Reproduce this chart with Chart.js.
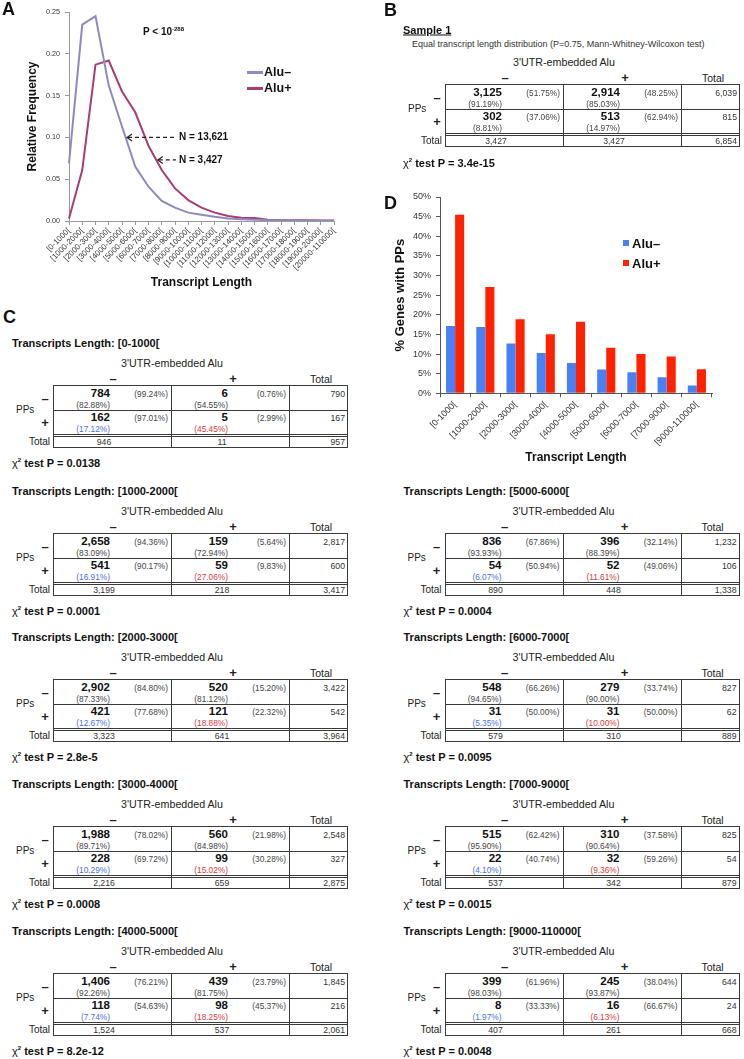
<!DOCTYPE html>
<html>
<head>
<meta charset="utf-8">
<script src="https://cdn.jsdelivr.net/npm/chart.js@4.4.1/dist/chart.umd.min.js"></script>
<style>
  html, body { margin: 0; padding: 0; background: #fff; }
  #page { position: relative; width: 744px; height: 1059px; overflow: hidden; background: #fff;
          font-family: "Liberation Sans", Arial, sans-serif; color: #222; }
  #page canvas { position: absolute; }
  .t { position: absolute; white-space: nowrap; line-height: 1; }
  .ln { position: absolute; background: #3a3a3a; }
</style>
</head>
<body>
<div id="page">
  <canvas id="chartA" width="372" height="300" style="left:0;top:0;width:372px;height:300px"></canvas>
  <canvas id="chartD" width="372" height="285" style="left:372px;top:185px;width:372px;height:285px"></canvas>
</div>
<script>
// ---- panel A : relative frequency of transcript lengths ----
const lengthBins = ['[0-1000[', '[1000-2000[', '[2000-3000[', '[3000-4000[', '[4000-5000[', '[5000-6000[',
  '[6000-7000[', '[7000-8000[', '[8000-9000[', '[9000-10000[', '[10000-11000[', '[11000-12000[',
  '[12000-13000[', '[13000-14000[', '[14000-15000[', '[15000-16000[', '[16000-17000[', '[17000-18000[',
  '[18000-19000[', '[19000-20000[', '[20000-110000['];
const freqAluNeg = [0.069, 0.235, 0.245, 0.162, 0.113, 0.065, 0.041, 0.024, 0.016, 0.010, 0.0075,
  0.005, 0.003, 0.002, 0.0015, 0.001, 0.001, 0.0007, 0.0005, 0.0004, 0.0003];
const freqAluPos = [0.003, 0.061, 0.187, 0.192, 0.155, 0.130, 0.090, 0.061, 0.039, 0.025, 0.016,
  0.010, 0.006, 0.004, 0.0035, 0.0015, 0.001, 0.001, 0.0008, 0.0005, 0.0005];
const countNotes = [
  { text: 'N = 13,621', head: [4.38, 0.100] },
  { text: 'N = 3,427', head: [6.7, 0.073] }
];

// ---- panel D : % genes with PPs ----
const binLabels = ['[0-1000[', '[1000-2000[', '[2000-3000[', '[3000-4000[', '[4000-5000[',
  '[5000-6000[', '[6000-7000[', '[7000-9000[', '[9000-110000['];
const pctAluNeg = [17.12, 16.91, 12.67, 10.29, 7.74, 6.07, 5.35, 4.10, 1.97];
const pctAluPos = [45.45, 27.06, 18.88, 15.02, 18.25, 11.61, 10.00, 9.36, 6.13];

// ---- contingency tables (PPs x 3'UTR-embedded Alu) ----
const ppNegAluNeg = [784, 2658, 2902, 1988, 1406, 836, 548, 515, 399];
const ppNegAluPos = [6, 159, 520, 560, 439, 396, 279, 310, 245];
const ppPosAluNeg = [162, 541, 421, 228, 118, 54, 31, 22, 8];
const ppPosAluPos = [5, 59, 121, 99, 98, 52, 31, 32, 16];
const chiP = ['0.0138', '0.0001', '2.8e-5', '0.0008', '8.2e-12', '0.0004', '0.0095', '0.0015', '0.0048'];
const sampleCounts = [3125, 2914, 302, 513];
const sampleP = '3.4e-15';

Chart.defaults.font.family = '"Liberation Sans", Arial, sans-serif';
Chart.defaults.color = '#222';

const page = document.getElementById('page');

function put(x, y, html, css, align) {
  const d = document.createElement('div');
  d.className = 't';
  d.style.left = x + 'px';
  d.style.top = y + 'px';
  const tx = align === 'right' ? '-100%' : align === 'center' ? '-50%' : '0';
  d.style.transform = 'translate(' + tx + ',-50%)';
  d.style.cssText += css || '';
  d.innerHTML = html;
  page.appendChild(d);
  return d;
}
function line(x, y, w, h, color) {
  const d = document.createElement('div');
  d.className = 'ln';
  d.style.left = x + 'px'; d.style.top = y + 'px';
  d.style.width = w + 'px'; d.style.height = h + 'px';
  if (color) d.style.background = color;
  page.appendChild(d);
}
const fmt = n => n.toLocaleString('en-US');
const pc = (a, b) => '(' + (100 * a / b).toFixed(2) + '%)';

// one 2x2 table, L/T = top-left of the box
function drawTable(L, T, c, colored) {
  const [a, b, cc, d] = c;
  const row1 = a + b, row2 = cc + d, col1 = a + cc, col2 = b + d, all = row1 + row2;
  const W = 295, H = 63;
  put(L + 119, T - 22, "3'UTR-embedded Alu", 'font-size:10.7px;', 'center');
  put(L + 60, T - 7, '–', 'font-size:13px;font-weight:bold;', 'center');
  put(L + 180, T - 7, '+', 'font-size:13px;font-weight:bold;', 'center');
  put(L + 268, T - 6, 'Total', 'font-size:10.5px;', 'center');
  put(L - 37, T + 25, 'PPs', 'font-size:10px;');
  put(L - 8, T + 13, '–', 'font-size:13px;font-weight:bold;', 'center');
  put(L - 8, T + 37, '+', 'font-size:13px;font-weight:bold;', 'center');
  put(L - 3, T + 57, 'Total', 'font-size:10px;', 'right');
  // box and dividers
  line(L, T, W, 1); line(L, T + H - 1, W, 1);
  line(L, T, 1, H); line(L + W - 1, T, 1, H);
  line(L + 118, T, 1, H); line(L + 236, T, 1, H);
  line(L, T + 25, W, 1);
  line(L, T + 49, W, 1); line(L, T + 51, W, 1);
  const pctCss = 'font-size:8.3px;color:#444;';
  const cells = [[a, row1, col1, 0, 0], [b, row1, col2, 1, 0], [cc, row2, col1, 0, 1], [d, row2, col2, 1, 1]];
  cells.forEach(([v, rt, ct, ci, ri]) => {
    const cx = L + ci * 118, cy = T + ri * 24;
    put(cx + 57, cy + 9, fmt(v), 'font-size:11.5px;font-weight:bold;color:#111;', 'right');
    put(cx + 115, cy + 9, pc(v, rt), pctCss, 'right');
    let colCss = pctCss;
    if (colored && ri === 1) colCss = 'font-size:8.3px;color:' + (ci === 0 ? '#4d6fe0' : '#d53a40') + ';';
    put(cx + 57, cy + 20, pc(v, ct), colCss, 'right');
  });
  const totCss = 'font-size:8.7px;color:#333;';
  put(L + 292, T + 9, fmt(row1), totCss, 'right');
  put(L + 292, T + 33, fmt(row2), totCss, 'right');
  put(L + 51, T + 57, fmt(col1), totCss, 'center');
  put(L + 169, T + 57, fmt(col2), totCss, 'center');
  put(L + 292, T + 57, fmt(all), totCss, 'right');
}
function chiLine(x, y, p) {
  put(x, y, '<span style="font-weight:normal">χ</span><sup style="font-size:6px">2</sup> test P = ' + p,
      'font-size:11px;font-weight:bold;color:#111;');
}

// panel letters
const letterCss = 'font-size:18px;font-weight:bold;color:#111;';
put(2, 9, 'A', letterCss);
put(384, 10, 'B', letterCss);
put(3, 317, 'C', letterCss);
put(384, 203, 'D', letterCss);

// panel B
put(403, 30, 'Sample 1', 'font-size:11px;font-weight:bold;text-decoration:underline;color:#111;');
put(412, 44, 'Equal transcript length distribution (P=0.75, Mann-Whitney-Wilcoxon test)', 'font-size:9px;color:#333;');
drawTable(445, 84, sampleCounts, false);
chiLine(403, 163, sampleP);

// panel C tables
const tablePos = [[53, 385], [53, 532.7], [53, 679.3], [53, 826], [53, 972.7],
                  [444.5, 532.7], [444.5, 679.3], [444.5, 826], [444.5, 972.7]];
binLabels.forEach((lab, i) => {
  const [L, T] = tablePos[i];
  put(L - 41, T - 42, 'Transcripts Length: ' + lab, 'font-size:11px;font-weight:bold;color:#111;');
  drawTable(L, T, [ppNegAluNeg[i], ppNegAluPos[i], ppPosAluNeg[i], ppPosAluPos[i]], true);
  chiLine(L - 41, T + 78, chiP[i]);
});

// overlays of panel A
put(143, 31, 'P &lt; 10<sup style="font-size:6px;vertical-align:4px">-288</sup>', 'font-size:10px;font-weight:bold;color:#111;');
const legA = [['Alu–', '#8c8abf', 72], ['Alu+', '#a93d70', 88]];
legA.forEach(([t, col, y]) => {
  line(247, y - 1, 16, 2.5, col);
  put(264, y, t, 'font-size:12.5px;font-weight:bold;color:#111;');
});
// overlays of panel D
const legD = [['Alu–', '#4a80f5', 243], ['Alu+', '#ff2200', 263]];
legD.forEach(([t, col, y]) => {
  line(623, y - 3, 6, 6, col);
  put(632, y, t, 'font-size:13px;font-weight:bold;color:#111;');
});

const arrowPlugin = {
  id: 'arrows',
  afterDatasetsDraw(chart) {
    const { ctx, scales: { x, y } } = chart;
    ctx.save();
    ctx.strokeStyle = '#222';
    ctx.fillStyle = '#111';
    ctx.lineWidth = 1.2;
    ctx.font = 'bold 10px "Liberation Sans", Arial, sans-serif';
    ctx.textBaseline = 'middle';
    const tx = x.getPixelForValue(8.3);
    countNotes.forEach(n => {
      const hx = x.getPixelForValue(n.head[0]);
      const hy = y.getPixelForValue(n.head[1]);
      ctx.setLineDash([4, 3]);
      ctx.beginPath(); ctx.moveTo(hx + 1, hy); ctx.lineTo(tx - 3, hy); ctx.stroke();
      ctx.setLineDash([]);
      ctx.beginPath(); ctx.moveTo(hx + 5, hy - 3.5); ctx.lineTo(hx, hy); ctx.lineTo(hx + 5, hy + 3.5); ctx.stroke();
      ctx.fillText(n.text, tx, hy);
    });
    ctx.restore();
  }
};

new Chart(document.getElementById('chartA'), {
  type: 'line',
  data: {
    labels: lengthBins,
    datasets: [
      { label: 'Alu–', data: freqAluNeg, borderColor: '#8c8abf', borderWidth: 2, pointRadius: 0, tension: 0 },
      { label: 'Alu+', data: freqAluPos, borderColor: '#a93d70', borderWidth: 2, pointRadius: 0, tension: 0 }
    ]
  },
  options: {
    responsive: false, animation: false, devicePixelRatio: 1,
    layout: { padding: { top: 12, right: 38, left: 0, bottom: 0 } },
    plugins: { legend: { display: false }, tooltip: { enabled: false } },
    scales: {
      x: {
        offset: false,
        grid: { drawOnChartArea: false, tickLength: 4, color: '#999' },
        border: { color: '#999' },
        ticks: { autoSkip: false, minRotation: 45, maxRotation: 45, padding: 1, font: { size: 8 }, color: '#333' },
        title: { display: true, text: 'Transcript Length', font: { size: 12, weight: 'bold' }, color: '#111', padding: { top: 0, bottom: 10 } },
        afterFit: s => { s.height = 79; }
      },
      y: {
        min: 0, max: 0.25,
        grid: { drawOnChartArea: false, tickLength: 4, color: '#999' },
        border: { color: '#999' },
        ticks: { stepSize: 0.05, padding: 5, font: { size: 7.2 }, color: '#333', callback: v => v.toFixed(2) },
        title: { display: true, text: 'Relative Frequency', font: { size: 12, weight: 'bold' }, color: '#111', padding: { top: 25, bottom: 0 } },
        afterFit: s => { s.width = 69; }
      }
    }
  },
  plugins: [arrowPlugin]
});

new Chart(document.getElementById('chartD'), {
  type: 'bar',
  data: {
    labels: binLabels,
    datasets: [
      { label: 'Alu–', data: pctAluNeg, backgroundColor: '#4a80f5' },
      { label: 'Alu+', data: pctAluPos, backgroundColor: '#ff2200' }
    ]
  },
  options: {
    responsive: false, animation: false, devicePixelRatio: 1,
    categoryPercentage: 0.6, barPercentage: 1.0,
    layout: { padding: { top: 12, right: 32, left: 0, bottom: 0 } },
    plugins: { legend: { display: false }, tooltip: { enabled: false } },
    scales: {
      x: {
        grid: { offset: true, drawOnChartArea: false, tickLength: 4, color: '#555' },
        border: { color: '#555' },
        ticks: { autoSkip: false, minRotation: 45, maxRotation: 45, padding: 2, font: { size: 9 }, color: '#333' },
        title: { display: true, text: 'Transcript Length', font: { size: 12, weight: 'bold' }, color: '#111', padding: { top: 0, bottom: 5 } },
        afterFit: s => { s.height = 76.7; }
      },
      y: {
        min: 0, max: 50,
        grid: { drawOnChartArea: false, tickLength: 4, color: '#555' },
        border: { color: '#555' },
        ticks: { stepSize: 5, padding: 5, font: { size: 9 }, color: '#333', callback: v => v + '%' },
        title: { display: true, text: '% Genes with PPs', font: { size: 13, weight: 'bold' }, color: '#111', padding: { top: 21, bottom: 0 } },
        afterFit: s => { s.width = 68; }
      }
    }
  }
});
</script>
</body>
</html>
